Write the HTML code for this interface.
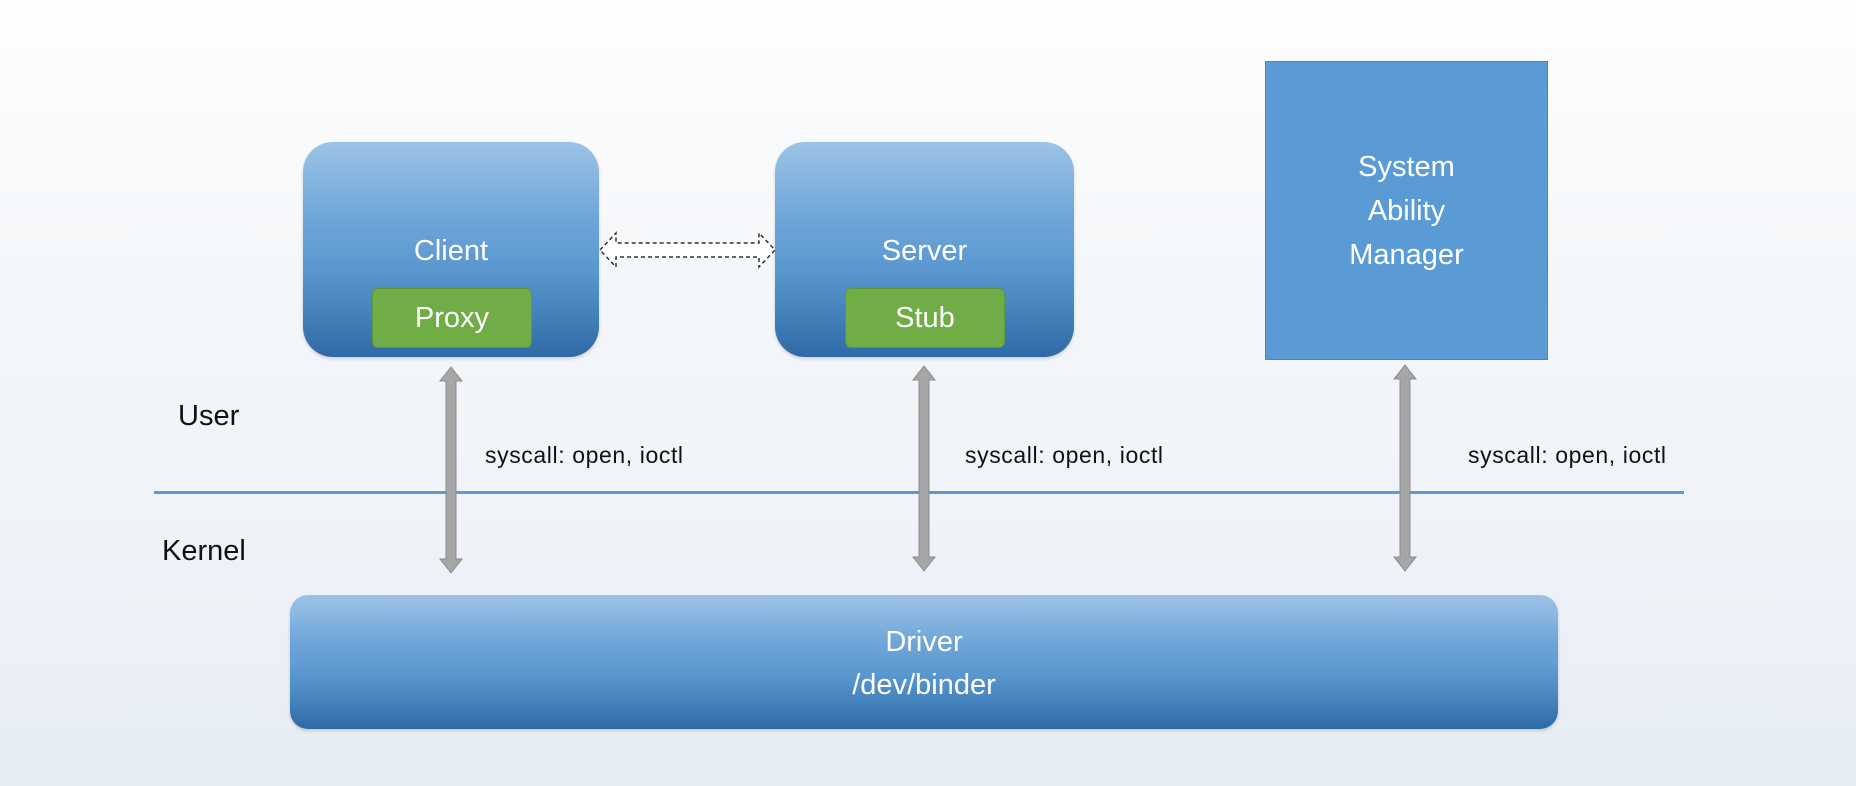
<!DOCTYPE html>
<html><head><meta charset="utf-8"><style>
html,body{margin:0;padding:0}
body{width:1856px;height:786px;position:relative;overflow:hidden;font-family:"Liberation Sans",sans-serif;
background:linear-gradient(180deg,#ffffff 0%,#fbfcfd 8%,#f3f6f9 40%,#eff3f8 70%,#e6ecf4 100%);}
.box{position:absolute;background:linear-gradient(180deg,#9dc3e6 0%,#6fa6d9 35%,#5a97cf 60%,#2f6aa6 100%);border-radius:30px;color:#fff;text-align:center;box-shadow:0 2px 3px rgba(0,0,0,.15)}
.g{position:absolute;background:#70ad47;border:1px solid #5a9a3a;border-radius:6px;color:#fff;font-size:29px;text-align:center;line-height:58px}
.t{position:absolute;color:#fff;font-size:29px;text-align:center;width:100%}
.lbl{position:absolute;font-size:23px;color:#111;letter-spacing:0.6px}
</style></head><body>
<div style="position:absolute;left:154px;top:491px;width:1530px;height:3px;background:#5b9bd5"></div>
<div class="box" style="left:303px;top:142px;width:296px;height:215px">
 <div class="t" style="top:93px">Client</div></div>
<div class="g" style="left:372px;top:288px;width:158px;height:58px">Proxy</div>
<div class="box" style="left:775px;top:142px;width:299px;height:215px">
 <div class="t" style="top:93px">Server</div></div>
<div class="g" style="left:845px;top:288px;width:158px;height:58px">Stub</div>
<div style="position:absolute;left:1265px;top:61px;width:281px;height:297px;background:#5b9bd5;border:1px solid #4a86c0;color:#fff;font-size:29px;text-align:center;line-height:44px">
 <div style="padding-top:83px">System<br>Ability<br>Manager</div></div>
<div class="box" style="left:290px;top:595px;width:1268px;height:134px;border-radius:18px">
 <div class="t" style="top:26px;line-height:43px">Driver<br>/dev/binder</div></div>
<svg width="1856" height="786" style="position:absolute;left:0;top:0">
 <g fill="#a6a6a6" stroke="#8c8c8c" stroke-width="1">
  <path d="M451 367 L462 381 L456 381 L456 559 L462 559 L451 573 L440 559 L446 559 L446 381 L440 381 Z"/>
  <path d="M924 366 L935 380 L929 380 L929 557 L935 557 L924 571 L913 557 L919 557 L919 380 L913 380 Z"/>
  <path d="M1405 365 L1416 379 L1410 379 L1410 557 L1416 557 L1405 571 L1394 557 L1400 557 L1400 379 L1394 379 Z"/>
 </g>
 <path d="M600 250 L616 233 L616 243 L759 243 L759 233 L775 250 L759 267 L759 257 L616 257 L616 267 Z" fill="#fff" stroke="#333" stroke-width="1.5" stroke-dasharray="4,3"/>
</svg>
<div class="lbl" style="left:178px;top:400px;font-size:29px;letter-spacing:0">User</div>
<div class="lbl" style="left:162px;top:535px;font-size:29px;letter-spacing:0">Kernel</div>
<div class="lbl" style="left:485px;top:442px">syscall: open, ioctl</div>
<div class="lbl" style="left:965px;top:442px">syscall: open, ioctl</div>
<div class="lbl" style="left:1468px;top:442px">syscall: open, ioctl</div>
</body></html>
